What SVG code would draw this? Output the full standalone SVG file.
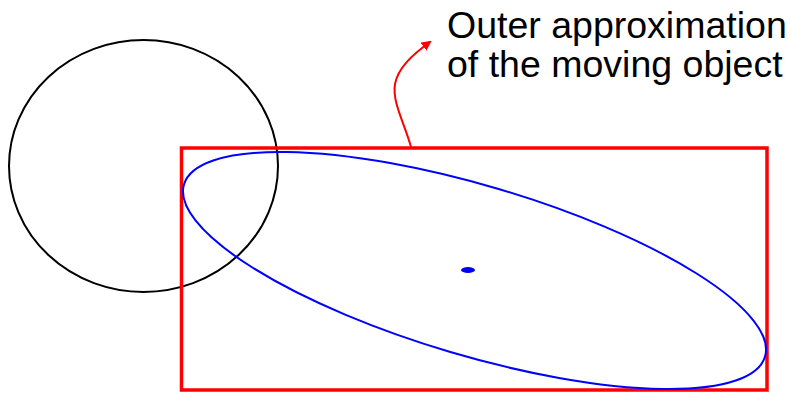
<svg xmlns="http://www.w3.org/2000/svg" width="790" height="393" viewBox="0 0 790 393">
<style>
.lbl{font-family:"Liberation Sans",Arial,sans-serif;font-size:37.5px;fill:#000}
</style>
<defs>
<marker id="ah" markerWidth="10" markerHeight="10" refX="8" refY="5" orient="auto" markerUnits="userSpaceOnUse" viewBox="0 0 10 10">
<path d="M0,0 L10,5 L0,10 Z" fill="#ff0000"/>
</marker>
</defs>
<rect width="790" height="393" fill="#fff"/>
<g id="obstacle">
<ellipse cx="143.5" cy="166" rx="134.5" ry="126" fill="none" stroke="#000" stroke-width="2"/>
</g>
<g id="box">
<rect x="181.5" y="148" width="585.5" height="242" fill="none" stroke="#ff0000" stroke-width="3.5"/>
</g>
<g id="object">
<ellipse cx="0" cy="0" rx="303" ry="85" transform="translate(474.5,270.5) rotate(16.5)" fill="none" stroke="#0000ff" stroke-width="2"/>
<ellipse cx="468" cy="270" rx="7" ry="3" fill="#0000ff"/>
</g>
<g id="connectors">
<path d="M411,147 C404,122 392,102 395,84 C398,68 412,55 430,42" fill="none" stroke="#ff0000" stroke-width="2" marker-end="url(#ah)"/>
</g>
<g id="label">
<text class="lbl" x="447" y="38">Outer approximation</text>
<text class="lbl" x="447" y="77">of the moving object</text>
</g>
</svg>
